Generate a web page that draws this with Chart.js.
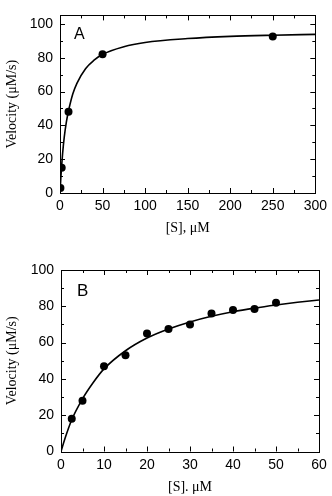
<!DOCTYPE html>
<html>
<head>
<meta charset="utf-8">
<script src="https://cdn.jsdelivr.net/npm/chart.js@4.4.1/dist/chart.umd.min.js"></script>
<style>
  html, body { margin: 0; padding: 0; background: #fff; }
  #wrap { position: relative; width: 332px; height: 496px; }
  canvas { position: absolute; left: 0; }
  #chart-a { top: 0; }
  #chart-b { top: 240px; }
</style>
</head>
<body>
<div id="wrap">
  <canvas id="chart-a" width="332" height="240"></canvas>
  <canvas id="chart-b" width="332" height="256"></canvas>
</div>
<script>
// panel A: wide substrate range
const subA = [0.5, 2, 10, 50, 250];
const velA = [3, 15, 48, 82, 92.5];
const fitSubA = [0, 1, 2, 3, 5, 7.5, 10, 15, 20, 30, 40, 50, 75, 100, 150, 200, 250, 300];
const fitVelA = [0, 9, 16.5, 23, 33, 42, 48.5, 58.5, 65, 73.5, 78.5, 82, 86.5, 89, 91.3, 92.6, 93.3, 93.8];

// panel B: low substrate range
const subB = [2.5, 5, 10, 15, 20, 25, 30, 35, 40, 45, 50];
const velB = [18, 28, 47, 53, 65, 67.5, 70, 76, 78, 78.5, 82];
const fitSubB = [0, 1, 2.5, 5, 7.5, 10, 15, 20, 25, 30, 35, 40, 45, 50, 55, 60];
const fitVelB = [0, 7.7, 17.5, 29, 38, 45.5, 55.5, 62.5, 67.5, 71.4, 74.5, 77, 79, 80.7, 82.2, 83.5];

// velocity ticks (labels on every other one)
const velTicks = [0, 10, 20, 30, 40, 50, 60, 70, 80, 90, 100];

const SANS = "'Liberation Sans', Arial, Helvetica, sans-serif";
const SERIF = "'Liberation Serif', 'Times New Roman', serif";

const pairs = (xs, ys) => xs.map((x, i) => ({ x, y: ys[i] }));

// inward tick marks on all four sides plus the frame and panel letter
const framePlugin = {
  id: 'frame',
  afterDatasetsDraw(chart, args, opts) {
    const { ctx, chartArea: a, scales: { x, y } } = chart;
    ctx.save();
    ctx.strokeStyle = '#000';
    ctx.lineWidth = 1;
    ctx.beginPath();
    x.ticks.forEach(t => {
      const px = Math.round(x.getPixelForValue(t.value)) + 0.5;
      const len = t.value % opts.xMajor === 0 ? 5 : 3;
      ctx.moveTo(px, a.bottom); ctx.lineTo(px, a.bottom - len);
      ctx.moveTo(px, a.top); ctx.lineTo(px, a.top + len);
    });
    y.ticks.forEach(t => {
      const py = Math.round(y.getPixelForValue(t.value)) + 0.5;
      const len = t.value % opts.yMajor === 0 ? 5 : 3;
      ctx.moveTo(a.left, py); ctx.lineTo(a.left + len, py);
      ctx.moveTo(a.right, py); ctx.lineTo(a.right - len, py);
    });
    ctx.stroke();
    ctx.strokeRect(Math.round(a.left) + 0.5, Math.round(a.top) + 0.5,
      Math.round(a.right - a.left), Math.round(a.bottom - a.top));
    ctx.fillStyle = '#000';
    ctx.font = opts.letterSize + 'px ' + SANS;
    ctx.textBaseline = 'alphabetic';
    ctx.fillText(opts.letter, a.left + opts.letterDx, a.top + opts.letterDy);
    ctx.restore();
  }
};

function makeChart(id, cfg) {
  return new Chart(document.getElementById(id), {
    type: 'scatter',
    data: {
      datasets: [
        {
          data: pairs(cfg.fitX, cfg.fitY), showLine: true, pointRadius: 0,
          borderColor: '#000', borderWidth: 1.6, cubicInterpolationMode: 'monotone'
        },
        {
          data: pairs(cfg.ptX, cfg.ptY), showLine: false, pointRadius: 4,
          pointBackgroundColor: '#000', pointBorderColor: '#000', pointBorderWidth: 0
        }
      ]
    },
    options: {
      responsive: false,
      animation: false,
      devicePixelRatio: 1,
      layout: { padding: { left: 0, top: cfg.top, right: cfg.right, bottom: 0 } },
      plugins: {
        legend: { display: false },
        tooltip: { enabled: false },
        frame: cfg.frame
      },
      scales: {
        x: {
          type: 'linear', min: 0, max: cfg.xMax,
          grid: { display: false, drawTicks: false },
          border: { display: false },
          ticks: {
            stepSize: cfg.xMinor, padding: 5, color: '#000', maxRotation: 0, autoSkip: false,
            font: { family: SANS, size: 14 },
            callback: v => (v % cfg.frame.xMajor === 0 ? v : '')
          },
          title: {
            display: true, text: cfg.xTitle, color: '#000',
            font: { family: SERIF, size: 14 }, padding: { top: 0, bottom: cfg.titlePad }
          },
          afterFit: s => { s.height = cfg.xHeight; }
        },
        y: {
          type: 'linear', min: 0, max: cfg.yMax,
          grid: { display: false, drawTicks: false },
          border: { display: false },
          afterBuildTicks: s => { s.ticks = velTicks.map(v => ({ value: v })); },
          ticks: {
            padding: 7, color: '#000', autoSkip: false,
            font: { family: SANS, size: 14 },
            callback: v => (v % cfg.frame.yMajor === 0 ? v : '')
          },
          title: {
            display: true, text: 'Velocity (μM/s)', color: '#000',
            font: { family: SERIF, size: 14 }, padding: { top: 4, bottom: 0 }
          },
          afterFit: s => { s.width = cfg.yWidth; }
        }
      }
    },
    plugins: [framePlugin]
  });
}

makeChart('chart-a', {
  ptX: subA, ptY: velA, fitX: fitSubA, fitY: fitVelA,
  xMax: 300, yMax: 105, xMinor: 25, xTitle: '[S], μM',
  top: 12, right: 15, xHeight: 47, yWidth: 60, titlePad: 3,
  frame: { xMajor: 50, yMajor: 20, letter: 'A', letterSize: 16, letterDx: 14, letterDy: 24 }
});

makeChart('chart-b', {
  ptX: subB, ptY: velB, fitX: fitSubB, fitY: fitVelB,
  xMax: 60, yMax: 100, xMinor: 5, xTitle: '[S]. μM',
  top: 30, right: 13, xHeight: 44.5, yWidth: 61, titlePad: 0,
  frame: { xMajor: 10, yMajor: 20, letter: 'B', letterSize: 17, letterDx: 16, letterDy: 26 }
});
</script>
</body>
</html>
